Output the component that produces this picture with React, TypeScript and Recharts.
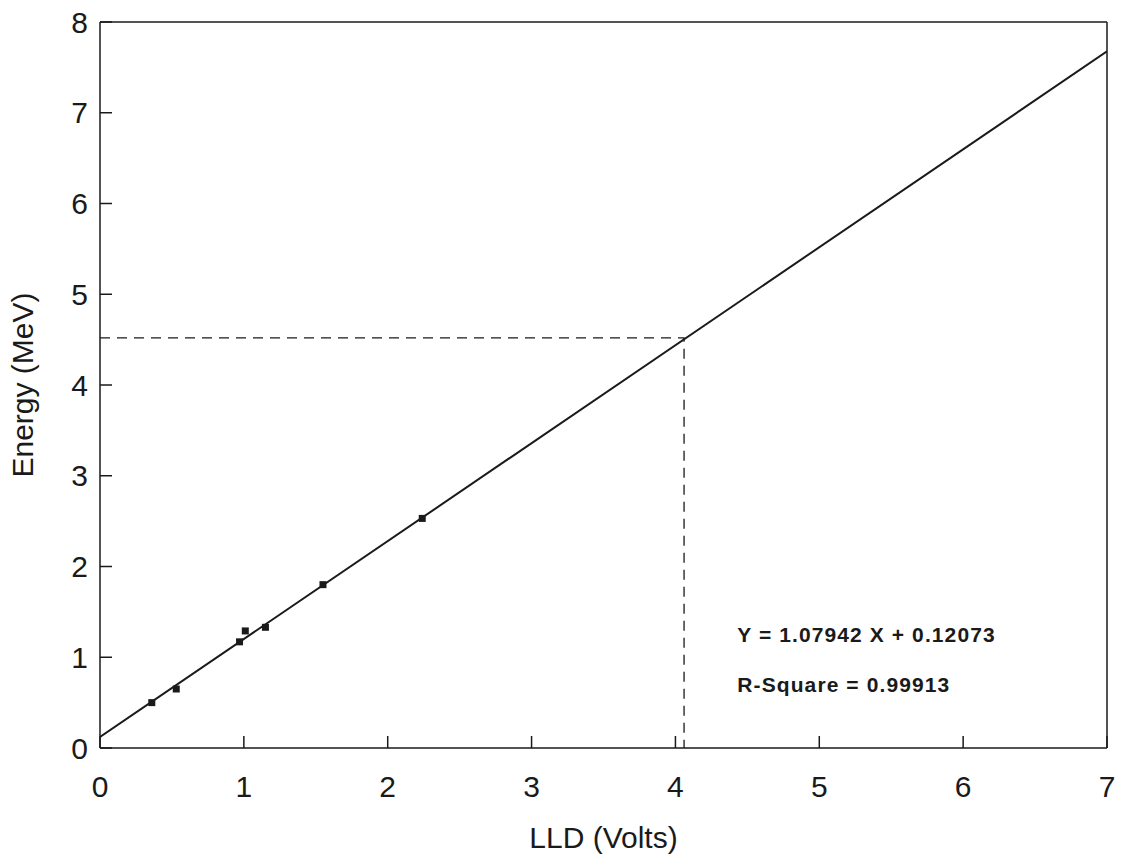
import {
  ComposedChart,
  Line,
  Scatter,
  XAxis,
  YAxis,
  ReferenceLine,
  ReferenceDot,
} from 'recharts'

// measured calibration points (LLD volts vs energy MeV)
const pointX = [0.36, 0.53, 0.97, 1.01, 1.15, 1.55, 2.24]
const pointY = [0.5, 0.65, 1.17, 1.29, 1.33, 1.8, 2.53]

// least squares fit, drawn across the whole axis
const fitX = [0, 7]
const fitY = [0.121, 7.677]

// read-off guide: 4.5 MeV -> ~4.06 V
const guideX = [0, 4.06, 4.06]
const guideY = [4.52, 4.52, 0]

const xTicks = [0, 1, 2, 3, 4, 5, 6, 7]
const yTicks = [0, 1, 2, 3, 4, 5, 6, 7, 8]

const fitText = 'Y = 1.07942 X + 0.12073'
const r2Text = 'R-Square = 0.99913'

const points = pointX.map((x, i) => ({ x, y: pointY[i] }))
const fitLine = fitX.map((x, i) => ({ x, y: fitY[i] }))
const guide = guideX.map((x, i) => ({ x, y: guideY[i] }))

const font = '"Liberation Sans", Arial, sans-serif'
const ink = '#1a1a1a'

const Square = (props: any) => {
  const { cx, cy } = props
  return <rect x={cx - 3.5} y={cy - 3.5} width={7} height={7} fill={ink} />
}

export default function App() {
  const tickStyle = { fill: ink, fontSize: 30, fontFamily: font }
  const noteStyle = {
    fill: ink,
    fontSize: 21,
    fontWeight: 700,
    fontFamily: font,
    letterSpacing: 1.1,
  }

  return (
    <div style={{ position: 'absolute', left: 0, top: 0, width: 1130, height: 867, background: '#fff' }}>
      <ComposedChart
        width={1130}
        height={867}
        margin={{ top: 22, right: 23, left: 10, bottom: 9 }}
      >
        <XAxis
          type="number"
          dataKey="x"
          domain={[0, 7]}
          ticks={xTicks}
          allowDataOverflow
          height={110}
          stroke={ink}
          strokeWidth={1.5}
          tickSize={-12}
          tickMargin={40}
          tick={tickStyle}
          label={{
            value: 'LLD (Volts)',
            position: 'insideBottom',
            offset: 10,
            style: { fill: ink, fontSize: 30, fontFamily: font },
          }}
        />
        <YAxis
          type="number"
          dataKey="y"
          domain={[0, 8]}
          ticks={yTicks}
          allowDataOverflow
          width={90}
          stroke={ink}
          strokeWidth={1.5}
          tickSize={-12}
          tickMargin={24}
          tick={tickStyle}
          label={{
            value: 'Energy (MeV)',
            angle: -90,
            position: 'insideLeft',
            offset: 12,
            style: { fill: ink, fontSize: 30, fontFamily: font, textAnchor: 'middle' },
          }}
        />

        {/* close the frame on top and right */}
        <ReferenceLine y={8} stroke={ink} strokeWidth={1.5} />
        <ReferenceLine x={7} stroke={ink} strokeWidth={1.5} />

        <Line
          data={guide}
          dataKey="y"
          type="linear"
          stroke={ink}
          strokeWidth={1.3}
          strokeDasharray="10 7"
          dot={false}
          isAnimationActive={false}
        />
        <Line
          data={fitLine}
          dataKey="y"
          type="linear"
          stroke={ink}
          strokeWidth={2}
          dot={false}
          isAnimationActive={false}
        />
        <Scatter data={points} dataKey="y" shape={Square} isAnimationActive={false} />

        <ReferenceDot
          x={4.43}
          y={1.25}
          r={0}
          fill="none"
          stroke="none"
          label={{ value: fitText, position: 'right', offset: 0, style: noteStyle }}
        />
        <ReferenceDot
          x={4.43}
          y={0.7}
          r={0}
          fill="none"
          stroke="none"
          label={{ value: r2Text, position: 'right', offset: 0, style: noteStyle }}
        />
      </ComposedChart>
    </div>
  )
}
